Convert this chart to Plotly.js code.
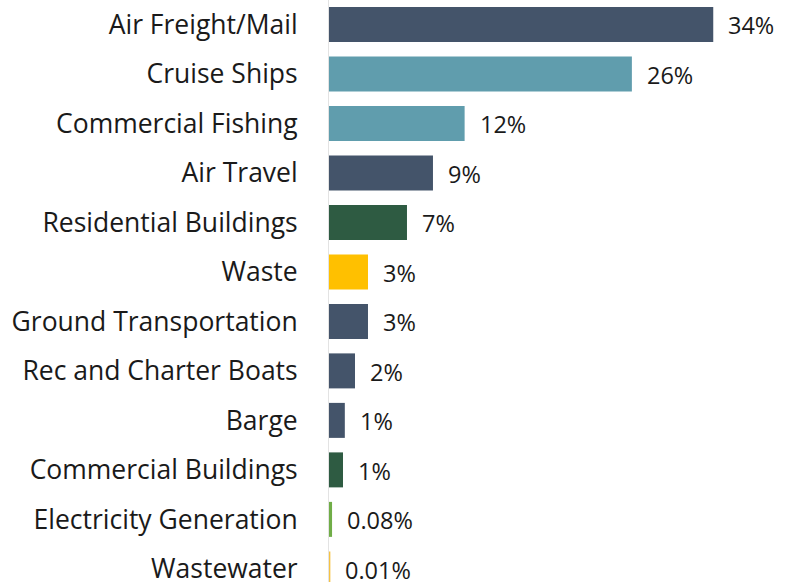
<!DOCTYPE html>
<html>
<head>
<meta charset="utf-8">
<script src="https://cdn.plot.ly/plotly-3.0.1.min.js"></script>
<style>html,body{margin:0;padding:0;background:#fff;}#chart{width:791px;height:582px;}</style>
</head>
<body>
<div id="chart"></div>
<script>
const categories = ["Air Freight/Mail","Cruise Ships","Commercial Fishing","Air Travel","Residential Buildings","Waste","Ground Transportation","Rec and Charter Boats","Barge","Commercial Buildings","Electricity Generation","Wastewater"];
const values = [34, 26.8, 12.0, 9.2, 6.9, 3.45, 3.45, 2.3, 1.4, 1.24, 0.27, 0.12];
const valueLabels = ["34%","26%","12%","9%","7%","3%","3%","2%","1%","1%","0.08%","0.01%"];
const barColors = ["#44546A","#609DAD","#609DAD","#44546A","#2E5B42","#FFC000","#44546A","#44546A","#44546A","#2E5B42","#70AD47","#F5C244"];

const trace = {
  type: "bar",
  orientation: "h",
  y: categories,
  x: values,
  marker: {color: barColors},
  width: 0.707,
  hoverinfo: "none"
};

const annotations = categories.map((c, i) => ({
  x: values[i], y: c, xref: "x", yref: "y",
  text: valueLabels[i], showarrow: false,
  xanchor: "left", yanchor: "middle", xshift: 13, yshift: -1,
  font: {family: "Open Sans", size: 23.5, color: "#1a1a1a"}
}));

const layout = {
  width: 791, height: 582,
  margin: {l: 329, r: 0, t: 0, b: 0, pad: 0},
  paper_bgcolor: "#fff", plot_bgcolor: "#fff",
  showlegend: false,
  font: {family: "Open Sans", size: 22, color: "#1a1a1a"},
  xaxis: {range: [0, 40.88], showgrid: false, zeroline: false, showticklabels: false, showline: false, fixedrange: true},
  yaxis: {
    type: "category", categoryorder: "array", categoryarray: categories,
    range: [11.265, -0.493], autorange: false,
    showgrid: false, zeroline: false,
    showline: true, linecolor: "#e3e3e3", linewidth: 1,
    ticks: "outside", ticklen: 25, tickcolor: "rgba(0,0,0,0)",
    tickfont: {family: "Open Sans", size: 26.5, color: "#1a1a1a"},
    automargin: false, fixedrange: true
  },
  annotations: annotations
};

Plotly.newPlot("chart", [trace], layout, {displayModeBar: false, staticPlot: true});
</script>
</body>
</html>
